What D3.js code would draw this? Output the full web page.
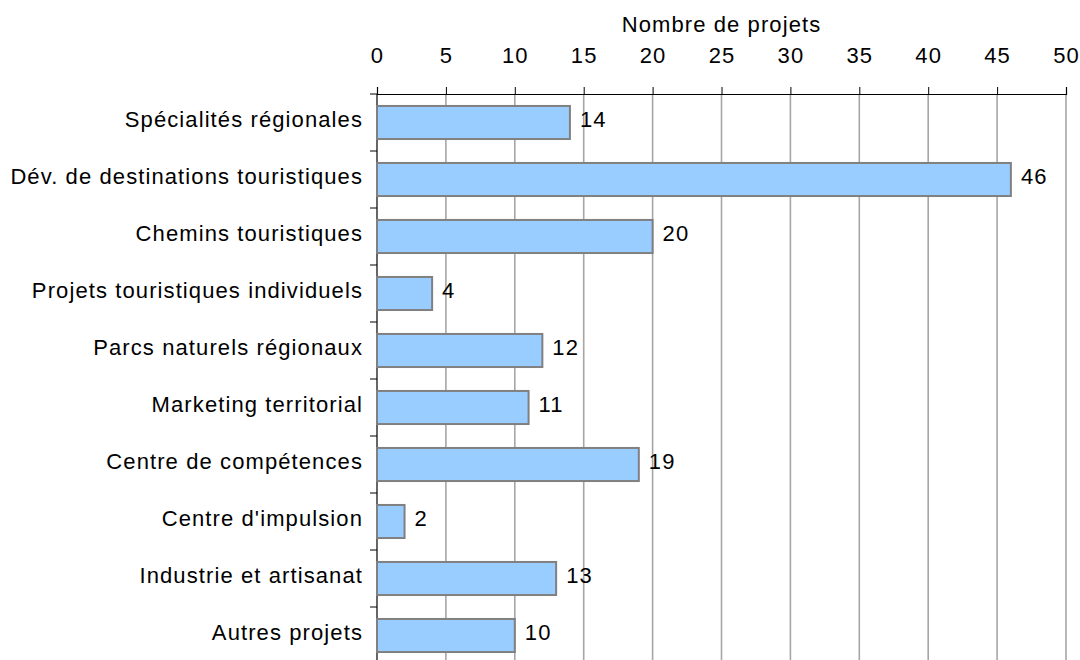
<!DOCTYPE html>
<html>
<head>
<meta charset="utf-8">
<script src="https://cdn.jsdelivr.net/npm/d3@7"></script>
<style>
  body { margin: 0; background: #fff; }
  text { font-family: "Liberation Sans", Arial, sans-serif; fill: #000; letter-spacing: 1.1px; }
</style>
</head>
<body>
<div id="chart"></div>
<script>
// categories and number of projects
var categories = [
  "Spécialités régionales",
  "Dév. de destinations touristiques",
  "Chemins touristiques",
  "Projets touristiques individuels",
  "Parcs naturels régionaux",
  "Marketing territorial",
  "Centre de compétences",
  "Centre d'impulsion",
  "Industrie et artisanat",
  "Autres projets"
];
var projets = [14, 46, 20, 4, 12, 11, 19, 2, 13, 10];
var xTicks = [0, 5, 10, 15, 20, 25, 30, 35, 40, 45, 50];
var axisTitle = "Nombre de projets";

var data = categories.map(function(c, i) { return {name: c, value: projets[i]}; });

var width = 1080, height = 660;
var margin = {top: 94, right: 14, bottom: -4, left: 377};
var fontSize = "22px";

var svg = d3.select("#chart")
  .append("svg")
    .attr("width", width)
    .attr("height", height);

var x = d3.scaleLinear()
  .domain([0, 50])
  .range([margin.left, width - margin.right]);

var y = d3.scaleBand()
  .domain(categories)
  .range([margin.top, height - margin.bottom])
  .paddingInner(0.42)
  .paddingOuter(0.21);

var step = y.step();

// vertical grid lines
svg.append("g")
  .selectAll("line")
  .data(xTicks.filter(function(d) { return d > 0; }))
  .enter()
  .append("line")
    .attr("x1", d => x(d))
    .attr("x2", d => x(d))
    .attr("y1", margin.top)
    .attr("y2", height - margin.bottom)
    .style("stroke", "#a6a6a6")
    .style("stroke-width", 1.6);

// top axis
var xAxis = d3.axisTop(x)
  .tickValues(xTicks)
  .tickSize(7)
  .tickPadding(24);

var gx = svg.append("g")
  .attr("transform", "translate(0," + margin.top + ")")
  .call(xAxis);
gx.select(".domain").attr("stroke", "#000").attr("stroke-width", 1.2);
gx.selectAll(".tick line").attr("stroke", "#000");
gx.selectAll(".tick text")
  .style("font-size", fontSize)
  .style("font-family", "Liberation Sans, Arial, sans-serif")
  .attr("fill", "#000");

svg.append("text")
  .attr("x", (x(0) + x(50)) / 2)
  .attr("y", 32)
  .attr("text-anchor", "middle")
  .style("font-size", fontSize)
  .text(axisTitle);

// left axis line with ticks at band boundaries
svg.append("line")
  .attr("x1", x(0)).attr("x2", x(0))
  .attr("y1", margin.top).attr("y2", height - margin.bottom)
  .style("stroke", "#000")
  .style("stroke-width", 1.2);

svg.append("g")
  .selectAll("line")
  .data(d3.range(categories.length + 1))
  .enter()
  .append("line")
    .attr("x1", x(0) - 7)
    .attr("x2", x(0))
    .attr("y1", i => margin.top + i * step)
    .attr("y2", i => margin.top + i * step)
    .style("stroke", "#000");

// bars
svg.append("g")
  .selectAll("rect")
  .data(data)
  .enter()
  .append("rect")
    .attr("x", x(0))
    .attr("y", d => y(d.name))
    .attr("width", d => x(d.value) - x(0))
    .attr("height", y.bandwidth())
    .style("fill", "#99ccff")
    .style("stroke", "#808080")
    .style("stroke-width", 2);

// category labels
svg.append("g")
  .selectAll("text")
  .data(data)
  .enter()
  .append("text")
    .attr("x", x(0) - 14)
    .attr("y", d => y(d.name) + y.bandwidth() / 2)
    .attr("dy", "0.22em")
    .attr("text-anchor", "end")
    .style("font-size", fontSize)
    .text(d => d.name);

// value labels
svg.append("g")
  .selectAll("text")
  .data(data)
  .enter()
  .append("text")
    .attr("x", d => x(d.value) + 10)
    .attr("y", d => y(d.name) + y.bandwidth() / 2)
    .attr("dy", "0.22em")
    .style("font-size", fontSize)
    .text(d => d.value);
</script>
</body>
</html>
